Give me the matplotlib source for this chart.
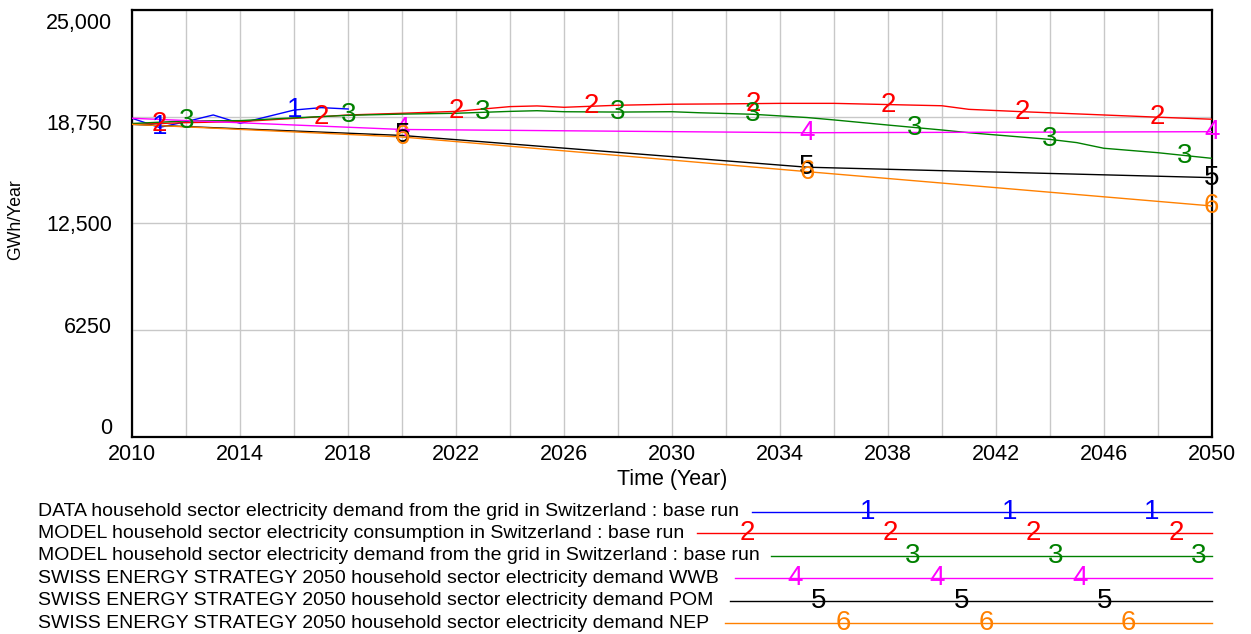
import matplotlib
matplotlib.use("Agg")
import matplotlib.pyplot as plt
import numpy as np
from matplotlib import transforms
from matplotlib.lines import Line2D

plt.rcParams['font.family'] = ['Liberation Sans', 'DejaVu Sans']

# ---------------- data ----------------
names = [
    "DATA household sector electricity demand from the grid in Switzerland : base run",
    "MODEL household sector electricity consumption in Switzerland : base run",
    "MODEL household sector electricity demand from the grid in Switzerland : base run",
    "SWISS ENERGY STRATEGY 2050 household sector electricity demand WWB",
    "SWISS ENERGY STRATEGY 2050 household sector electricity demand POM",
    "SWISS ENERGY STRATEGY 2050 household sector electricity demand NEP",
]
colors = ["#0000ff", "#ff0000", "#008000", "#ff00ff", "#000000", "#ff8000"]

data_years = [2010, 2011, 2012, 2013, 2014, 2015, 2016, 2017, 2018]
data_vals = [18650, 18120, 18460, 18850, 18360, 18750, 19140, 19280, 19200]

cons_years = [2010, 2012, 2014, 2016, 2018, 2020, 2022, 2024, 2025, 2026, 2028, 2030,
              2032, 2034, 2036, 2038, 2040, 2041, 2043, 2046, 2048, 2050]
cons_vals = [18300, 18400, 18460, 18650, 18850, 18950, 19060, 19340, 19380, 19300, 19420, 19480,
             19500, 19530, 19530, 19460, 19390, 19180, 19040, 18850, 18720, 18600]

grid_years = [2010, 2012, 2014, 2016, 2018, 2020, 2022, 2024, 2025, 2026, 2028, 2030, 2031,
              2033, 2035, 2036, 2038, 2040, 2041, 2044, 2045, 2046, 2048, 2050]
grid_vals = [18350, 18500, 18520, 18680, 18830, 18900, 18950, 19060, 19100, 19040, 19020, 19040, 18980,
             18890, 18700, 18560, 18260, 17970, 17810, 17420, 17230, 16900, 16640, 16310]

ses_years = [2010, 2020, 2035, 2050]
wwb_vals = [18655, 18000, 17810, 17870]
pom_vals = [18300, 17650, 15790, 15180]
nep_vals = [18300, 17560, 15530, 13520]

series_years = [data_years, cons_years, grid_years, ses_years, ses_years, ses_years]
series_vals = [data_vals, cons_vals, grid_vals, wwb_vals, pom_vals, nep_vals]

# years where the series numbers are written on the curves
label_years = [
    [2011, 2016],
    [2011, 2017, 2022, 2027, 2033, 2038, 2043, 2048],
    [2012, 2018, 2023, 2028, 2033, 2039, 2044, 2049],
    [2020, 2035, 2050],
    [2020, 2035, 2050],
    [2020, 2035, 2050],
]

yticks = [0, 6250, 12500, 18750, 25000]
ytick_labels = ["0", "6250", "12,500", "18,750", "25,000"]
xticks = list(range(2010, 2051, 4))

# ---------------- layout ----------------
W, H = 1251, 634
fig = plt.figure(figsize=(W / 100, H / 100), dpi=100)
L, R, T, B = 132.3, 1211.7, 10.0, 436.7
ax = fig.add_axes([L / W, 1 - B / H, (R - L) / W, (B - T) / H])
ax.set_xlim(2010, 2050)
ax.set_ylim(0, 25000)

ax.set_xticks(xticks)
ax.set_xticks(range(2010, 2051, 2), minor=True)
ax.set_xticklabels([str(x) for x in xticks], fontsize=15.5)
ax.tick_params(axis='x', which='both', length=0, pad=5)
ax.set_yticks(yticks)
ax.set_yticklabels([])
ax.tick_params(axis='y', length=0)
ax.grid(True, which='both', color='#c8c8c8', lw=1.0)
ax.set_axisbelow(True)
for s in ax.spines.values():
    s.set_linewidth(1.6)

# y tick labels (spaced slightly inward as in the source)
for v, lab in zip(yticks, ytick_labels):
    f = v / 25000
    dy = 13.3 - (1 - f) * 21.7  # pixels downward
    tr = transforms.blended_transform_factory(ax.transAxes, ax.transData)
    tr = tr + transforms.ScaledTranslation(-20 / 100, -dy / 100, fig.dpi_scale_trans)
    ax.text(0, v, lab, transform=tr, ha='right', va='center', fontsize=15.5)

ax.set_xlabel("Time (Year)", fontsize=15.5, labelpad=3)
fig.text(16 / W, 1 - 220 / H, "GWh/Year", rotation=90, ha='center', va='center', fontsize=12.7)

for i in range(6):
    ax.plot(series_years[i], series_vals[i], color=colors[i], lw=1.0, zorder=3)
for i in range(6):
    for yr in label_years[i]:
        ax.text(yr, np.interp(yr, series_years[i], series_vals[i]), str(i + 1), color=colors[i],
                fontsize=20, ha='center', va='center', zorder=4, clip_on=False)

# ---------------- legend ----------------
row_y = [511.7, 533.3, 556.0, 578.3, 600.7, 623.3]
line_x0 = [752, 697, 771, 735, 730, 725]
num_x = [
    [868, 1010, 1152],
    [747, 890, 1033, 1176],
    [913, 1056, 1199],
    [795, 937, 1080],
    [819, 962, 1105],
    [843, 986, 1128],
]
for i in range(6):
    yy = 1 - row_y[i] / H
    fig.text(38 / W, yy, names[i], ha='left', va='center', fontsize=14.0)
    fig.add_artist(Line2D([line_x0[i] / W, R / W], [yy, yy], transform=fig.transFigure,
                          color=colors[i], lw=1.0))
    for xx in num_x[i]:
        fig.text(xx / W, yy, str(i + 1), color=colors[i], fontsize=20, ha='center', va='center')

fig.savefig("out.png", dpi=100)
